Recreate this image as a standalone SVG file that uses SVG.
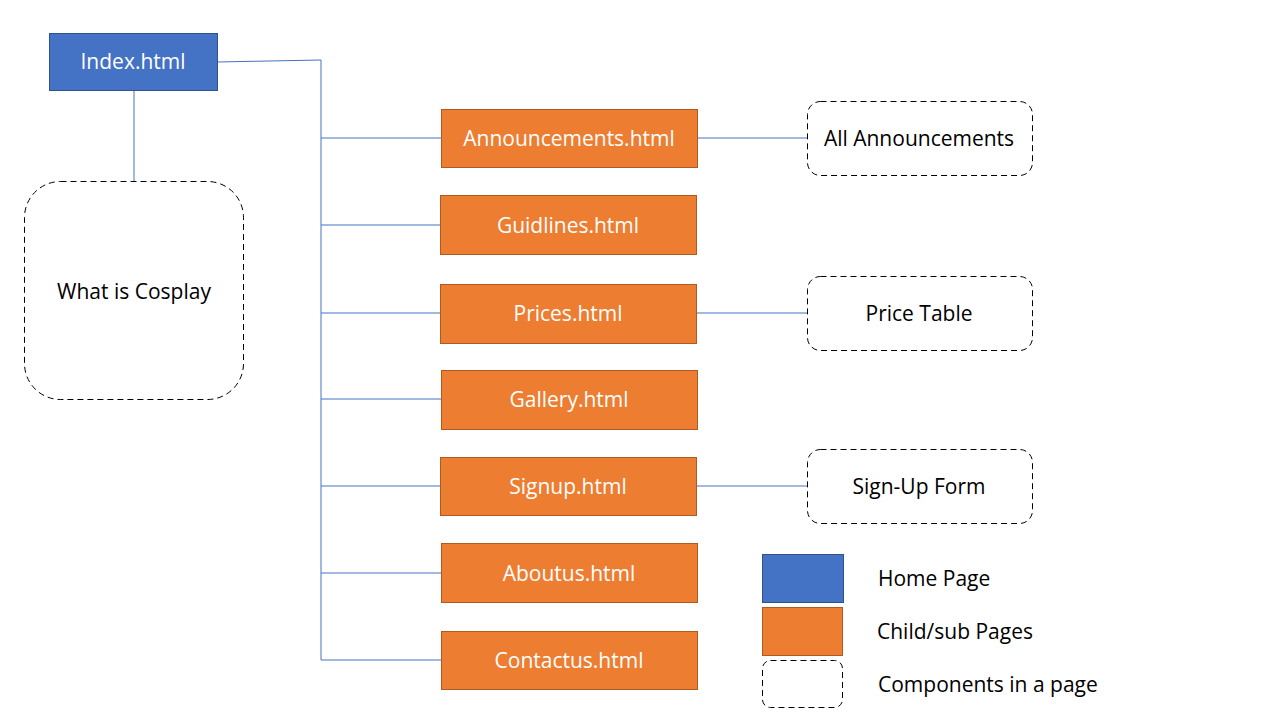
<svg xmlns="http://www.w3.org/2000/svg" width="1280" height="720" viewBox="0 0 1280 720">
<style>
text{font-family:"Open Sans","Liberation Sans",sans-serif;font-size:21px;text-anchor:middle;dominant-baseline:central}
.home{fill:#4472C4;stroke:#2F528F;stroke-width:1}
.page{fill:#ED7D31;stroke:#AE5A21;stroke-width:1}
.comp{fill:#fff;stroke:#000;stroke-width:1;stroke-dasharray:6 4}
.w{fill:#fff}
.k{fill:#000}
.lg{text-anchor:start}
#connectors path{fill:none;stroke:#4472C4;stroke-width:1}
</style>
<rect width="1280" height="720" fill="#fff"/>
<g id="connectors">
<path d="M217,62 L321,60 L321,660"/>
<path d="M134,90 V181"/>
<path d="M321,138 H441"/>
<path d="M321,225 H440"/>
<path d="M321,313 H440"/>
<path d="M321,399 H441"/>
<path d="M321,486 H440"/>
<path d="M321,573 H441"/>
<path d="M321,660 H441"/>
<path d="M697,138 H807"/>
<path d="M696,313 H807"/>
<path d="M696,486 H807"/>
</g>
<g id="index"><rect class="home" x="49.5" y="33.5" width="168" height="57"/><text class="w" x="133" y="61">Index.html</text></g>
<g id="whatis"><rect class="comp" x="24.5" y="181.5" width="219" height="218" rx="36"/><text class="k" x="134" y="291">What is Cosplay</text></g>
<g id="announcements"><rect class="page" x="441.5" y="109.5" width="256" height="58"/><text class="w" x="569" y="138">Announcements.html</text></g>
<g id="guidlines"><rect class="page" x="440.5" y="195.5" width="256" height="59"/><text class="w" x="568" y="225">Guidlines.html</text></g>
<g id="prices"><rect class="page" x="440.5" y="284.5" width="256" height="59"/><text class="w" x="568" y="313">Prices.html</text></g>
<g id="gallery"><rect class="page" x="441.5" y="370.5" width="256" height="59"/><text class="w" x="569" y="399">Gallery.html</text></g>
<g id="signup"><rect class="page" x="440.5" y="457.5" width="256" height="58"/><text class="w" x="568" y="486">Signup.html</text></g>
<g id="aboutus"><rect class="page" x="441.5" y="543.5" width="256" height="59"/><text class="w" x="569" y="573">Aboutus.html</text></g>
<g id="contactus"><rect class="page" x="441.5" y="631.5" width="256" height="58"/><text class="w" x="569" y="660">Contactus.html</text></g>
<g id="allann"><rect class="comp" x="807.5" y="101.5" width="225" height="74" rx="13"/><text class="k" x="919" y="138">All Announcements</text></g>
<g id="pricetable"><rect class="comp" x="807.5" y="276.5" width="225" height="74" rx="13"/><text class="k" x="919" y="313">Price Table</text></g>
<g id="signupform"><rect class="comp" x="807.5" y="449.5" width="225" height="74" rx="13"/><text class="k" x="919" y="486">Sign-Up Form</text></g>
<g id="legend">
<rect class="home" x="762.5" y="554.5" width="81" height="48"/>
<rect class="page" x="762.5" y="607.5" width="80" height="48"/>
<rect class="comp" x="762.5" y="660.5" width="80" height="47" rx="8"/>
<text class="k lg" x="878" y="578">Home Page</text>
<text class="k lg" x="877" y="631">Child/sub Pages</text>
<text class="k lg" x="878" y="684">Components in a page</text>
</g>
</svg>
